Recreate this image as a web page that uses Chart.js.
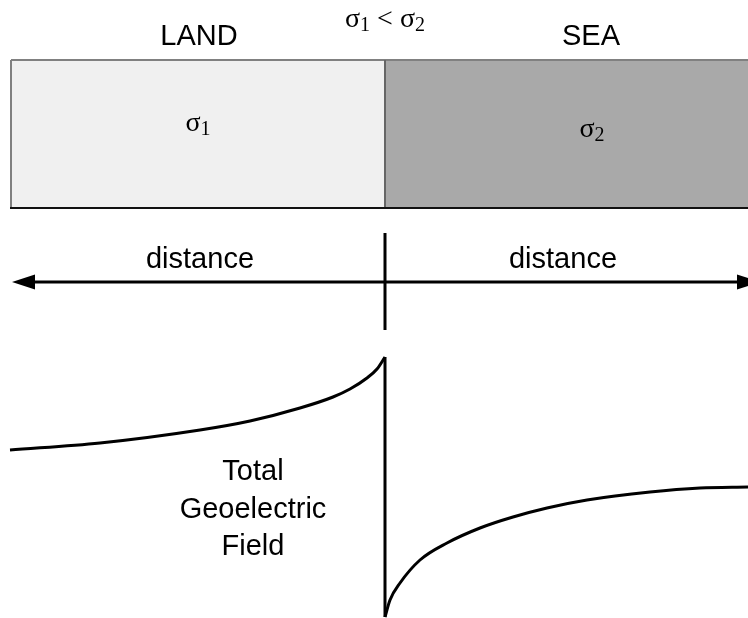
<!DOCTYPE html>
<html>
<head>
<meta charset="utf-8">
<script src="https://cdn.jsdelivr.net/npm/chart.js@4/dist/chart.umd.min.js"></script>
<style>
  html, body { margin: 0; padding: 0; background: #ffffff; }
  #wrap { width: 748px; height: 618px; position: relative; }
</style>
</head>
<body>
<div id="wrap"><canvas id="fieldChart"></canvas></div>
<script>
// distance from the coast (coast = 0, land < 0, sea > 0), field strength in arbitrary units
const landDistance = [-3.75, -2.85, -1.85, -1.35, -0.85, -0.52, -0.35, -0.18, -0.08, 0];
const landField    = [1.68, 1.75, 1.88, 1.97, 2.10, 2.21, 2.29, 2.40, 2.49, 2.61];

const seaDistance = [0, 0.05, 0.15, 0.35, 0.62, 0.95, 1.28, 1.62, 2.02, 2.65, 3.15, 3.63];
const seaField    = [0.01, 0.18, 0.35, 0.58, 0.75, 0.90, 1.01, 1.10, 1.18, 1.26, 1.30, 1.31];

const coastDistance = 0;
const coastJump = [2.61, 0.01];

const regionNames = ['LAND', 'SEA'];
const regionSigma = ['1', '2'];
const regionStart = [-3.74, 0];
const regionEnd   = [0, 4.2];
const layerTop = 5.58;
const layerBottom = 4.10;

const axisLevel = 3.36;
const axisEnds = [-3.73, 3.75];
const axisTick = [3.85, 2.88];
const axisLabel = 'distance';
const fieldLabel = ['Total', 'Geoelectric', 'Field'];

const sans = '"Liberation Sans", Arial, sans-serif';
const serif = '"Liberation Serif", "Times New Roman", serif';

function sigmaText(ctx, x, y, sub, size) {
    // σ with a subscript, centred on x
    ctx.font = size + 'px ' + serif;
    const w1 = ctx.measureText('\u03c3').width;
    ctx.font = Math.round(size * 0.7) + 'px ' + serif;
    const w2 = ctx.measureText(sub).width;
    let left = x - (w1 + w2) / 2;
    ctx.textAlign = 'left';
    ctx.font = size + 'px ' + serif;
    ctx.fillText('\u03c3', left, y);
    ctx.font = Math.round(size * 0.7) + 'px ' + serif;
    ctx.fillText(sub, left + w1, y + 4);
    return w1 + w2;
}

const diagramPlugin = {
    id: 'diagram',
    beforeDatasetsDraw(chart) {
        const ctx = chart.ctx;
        const xs = chart.scales.x;
        const ys = chart.scales.y;
        const top = ys.getPixelForValue(layerTop);
        const bottom = ys.getPixelForValue(layerBottom);
        const fills = ['#f0f0f0', '#a9a9a9'];
        ctx.save();
        for (let i = 0; i < regionNames.length; i++) {
            const l = xs.getPixelForValue(regionStart[i]);
            const r = xs.getPixelForValue(regionEnd[i]);
            ctx.fillStyle = fills[i];
            ctx.fillRect(l, top, r - l, bottom - top);
        }
        const l0 = xs.getPixelForValue(regionStart[0]);
        const rEnd = xs.getPixelForValue(regionEnd[1]);
        const mid = xs.getPixelForValue(regionEnd[0]);
        ctx.lineWidth = 2;
        ctx.strokeStyle = '#808080';
        ctx.beginPath();
        ctx.moveTo(l0, top); ctx.lineTo(rEnd, top);
        ctx.moveTo(l0, top); ctx.lineTo(l0, bottom);
        ctx.stroke();
        ctx.strokeStyle = '#666666';
        ctx.beginPath();
        ctx.moveTo(mid, top); ctx.lineTo(mid, bottom);
        ctx.stroke();
        ctx.strokeStyle = '#111111';
        ctx.beginPath();
        ctx.moveTo(l0 - 1, bottom); ctx.lineTo(rEnd, bottom);
        ctx.stroke();

        // arrow heads
        const ay = ys.getPixelForValue(axisLevel);
        ctx.fillStyle = '#000000';
        const tipL = xs.getPixelForValue(axisEnds[0]);
        const tipR = xs.getPixelForValue(axisEnds[1]);
        ctx.beginPath();
        ctx.moveTo(tipL, ay); ctx.lineTo(tipL + 23, ay - 7.5); ctx.lineTo(tipL + 23, ay + 7.5); ctx.closePath();
        ctx.fill();
        ctx.beginPath();
        ctx.moveTo(tipR, ay); ctx.lineTo(tipR - 23, ay - 7.5); ctx.lineTo(tipR - 23, ay + 7.5); ctx.closePath();
        ctx.fill();
        ctx.restore();
    },
    afterDatasetsDraw(chart) {
        const ctx = chart.ctx;
        const xs = chart.scales.x;
        ctx.save();
        ctx.fillStyle = '#000000';
        ctx.textBaseline = 'alphabetic';
        const centres = [199, 591];
        for (let i = 0; i < regionNames.length; i++) {
            ctx.textAlign = 'center';
            ctx.font = '29px ' + sans;
            ctx.fillText(regionNames[i], centres[i], 45);
        }
        sigmaText(ctx, 198, 131, regionSigma[0], 28);
        sigmaText(ctx, 592, 137, regionSigma[1], 28);

        // σ1 < σ2 title
        ctx.font = '28px ' + serif;
        const wLt = ctx.measureText(' < ').width;
        const ws = ctx.measureText('\u03c3').width;
        ctx.font = '20px ' + serif;
        const wsub = ctx.measureText('1').width;
        const total = 2 * (ws + wsub) + wLt;
        const cx = xs.getPixelForValue(coastDistance);
        const left = cx - total / 2;
        sigmaText(ctx, left + (ws + wsub) / 2, 27, regionSigma[0], 28);
        ctx.font = '28px ' + serif;
        ctx.textAlign = 'left';
        ctx.fillText(' < ', left + ws + wsub, 27);
        sigmaText(ctx, left + ws + wsub + wLt + (ws + wsub) / 2, 27, regionSigma[1], 28);

        ctx.textAlign = 'center';
        ctx.font = '29px ' + sans;
        ctx.fillText(axisLabel, 200, 268);
        ctx.fillText(axisLabel, 563, 268);
        const base = [480, 518, 555];
        fieldLabel.forEach((t, i) => ctx.fillText(t, 253, base[i]));
        ctx.restore();
    }
};

const pts = (xs, ys) => xs.map((x, i) => ({ x: x, y: ys[i] }));
const blackLine = {
    showLine: true,
    borderColor: '#000000',
    borderWidth: 3,
    pointRadius: 0,
    fill: false
};

new Chart(document.getElementById('fieldChart'), {
    type: 'scatter',
    data: {
        datasets: [
            Object.assign({ label: 'land', data: pts(landDistance, landField), cubicInterpolationMode: 'monotone' }, blackLine),
            Object.assign({ label: 'coast', data: [{ x: coastDistance, y: coastJump[0] }, { x: coastDistance, y: coastJump[1] }] }, blackLine),
            Object.assign({ label: 'sea', data: pts(seaDistance, seaField), cubicInterpolationMode: 'monotone' }, blackLine),
            Object.assign({ label: 'axis', data: [{ x: axisEnds[0] + 0.1, y: axisLevel }, { x: axisEnds[1] - 0.1, y: axisLevel }] }, blackLine),
            Object.assign({ label: 'tick', data: [{ x: coastDistance, y: axisTick[0] }, { x: coastDistance, y: axisTick[1] }] }, blackLine)
        ]
    },
    options: {
        responsive: true,
        maintainAspectRatio: false,
        animation: false,
        clip: false,
        layout: { padding: 0 },
        plugins: {
            legend: { display: false },
            tooltip: { enabled: false }
        },
        scales: {
            x: { type: 'linear', min: -3.85, max: 3.63, display: false },
            y: { type: 'linear', min: 0, max: 6.18, display: false }
        }
    },
    plugins: [diagramPlugin]
});
</script>
</body>
</html>
